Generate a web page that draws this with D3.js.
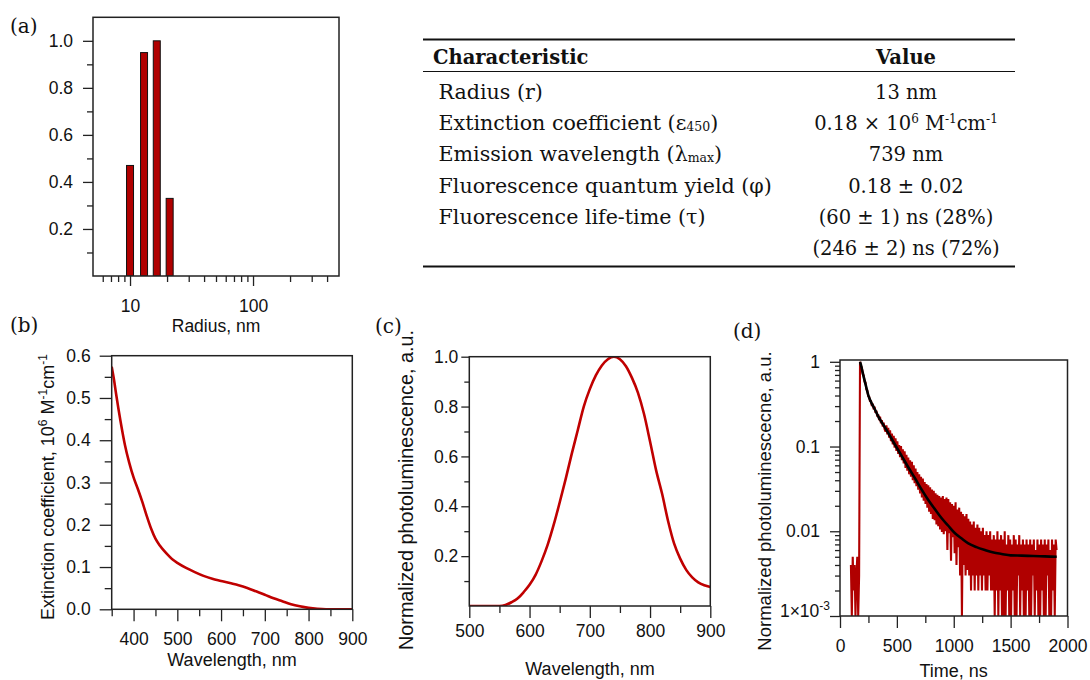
<!DOCTYPE html>
<html>
<head>
<meta charset="utf-8">
<script src="https://cdn.jsdelivr.net/npm/d3@7"></script>
<style>
  body { margin: 0; background: #fff; }
  svg { display: block; }
  text { white-space: pre; }
</style>
</head>
<body>
<svg id="fig" width="1090" height="680"></svg>
<script>
// ---------------------------------------------------------
// Data
// ---------------------------------------------------------

// (a) size distribution
const sizeRadius = [10, 13, 16.5, 21];
const sizeFraction = [0.47, 0.95, 1.0, 0.33];

// (b) extinction spectrum
const absWavelength = [350, 355, 360, 370, 380, 390, 400, 410, 420, 430, 440, 450, 460, 470, 480, 490, 500,
    520, 540, 560, 580, 600, 620, 640, 660, 680, 700, 720, 740, 760, 780, 800, 820, 840, 860, 880, 900];
const absExtinction = [0.574, 0.545, 0.51, 0.446, 0.39, 0.347, 0.312, 0.284, 0.254, 0.221, 0.191, 0.167, 0.151, 0.138, 0.127, 0.117, 0.11,
    0.098, 0.088, 0.079, 0.072, 0.067, 0.062, 0.057, 0.0505, 0.0425, 0.0345, 0.026, 0.019, 0.012, 0.007, 0.0033, 0.001, 0, 0, 0, 0];

// (c) emission spectrum
const plWavelength = [500, 520, 540, 550, 560, 570, 580, 590, 600, 610, 620, 630, 640, 650, 660, 670, 680, 690, 700,
    710, 720, 730, 740, 750, 760, 770, 780, 790, 800, 810, 820, 830, 840, 850, 860, 870, 880, 890, 900];
const plIntensity = [0, 0, 0, 0, 0.004, 0.015, 0.03, 0.055, 0.085, 0.125, 0.18, 0.245, 0.325, 0.415, 0.51, 0.61, 0.705, 0.8, 0.87,
    0.925, 0.965, 0.99, 1.0, 0.99, 0.962, 0.915, 0.855, 0.77, 0.66, 0.545, 0.45, 0.34, 0.25, 0.19, 0.145, 0.115, 0.095, 0.083, 0.076];

// (d) decay trace, one sample every decayStep ns from decayStart
const decayStart = 96;
const decayStep = 8;
const decayTrace = [
    0.004, 0, 0.005, 0.002, 0.004, 0, 0.003, 0.005, 0, 0.003,
    1.0, 0.9, 0.85, 0.72, 0.69, 0.58, 0.57, 0.47, 0.46, 0.39,
    0.39, 0.34, 0.35, 0.3, 0.32, 0.275, 0.295, 0.25, 0.265, 0.225,
    0.24, 0.205, 0.225, 0.188, 0.205, 0.172, 0.192, 0.16, 0.15, 0.178,
    0.139, 0.166, 0.127, 0.155, 0.116, 0.142, 0.106, 0.134, 0.097, 0.125,
    0.089, 0.115, 0.082, 0.104, 0.075, 0.101, 0.069, 0.093, 0.063, 0.088,
    0.056, 0.08, 0.052, 0.074, 0.047, 0.069, 0.044, 0.066, 0.04, 0.06,
    0.037, 0.055, 0.034, 0.05, 0.031, 0.047, 0.028, 0.044, 0.025, 0.042,
    0.023, 0.038, 0.021, 0.036, 0.019, 0.035, 0.017, 0.033, 0.016, 0.031,
    0.014, 0.03, 0.0135, 0.028, 0.012, 0.027, 0.0115, 0.026, 0.0105, 0.025,
    0.0098, 0.026, 0.0092, 0.024, 0.01, 0.025, 0.006, 0.024, 0.0095, 0.022,
    0.0045, 0.021, 0.0085, 0.02, 0.0055, 0.022, 0.004, 0.018, 0.0065, 0.019,
    0.003, 0.017, 0, 0.016, 0.004, 0.015, 0.003, 0.016, 0.0035, 0.014,
    0.003, 0.013, 0.002, 0.012, 0.003, 0.013, 0.002, 0.011, 0.003, 0.012,
    0.002, 0.011, 0.003, 0.01, 0.002, 0.011, 0.003, 0.009, 0.002, 0.01,
    0.002, 0.009, 0.003, 0.01, 0.002, 0.008, 0.002, 0.009, 0, 0.008,
    0.002, 0.01, 0, 0.008, 0.002, 0.009, 0, 0.008, 0.001, 0.01,
    0, 0.007, 0.002, 0.009, 0, 0.008, 0, 0.007, 0.002, 0.009,
    0, 0.008, 0, 0.007, 0.003, 0.009, 0, 0.007, 0.002, 0.008,
    0, 0.007, 0, 0.008, 0.002, 0.007, 0, 0.008, 0, 0.007,
    0.003, 0.008, 0, 0.006, 0.002, 0.008, 0, 0.007, 0, 0.008,
    0.002, 0.007, 0, 0.008, 0, 0.007, 0.003, 0.008, 0, 0.006,
    0, 0.008, 0.002, 0.007, 0, 0.008, 0.006
];

// (d) bi-exponential fit (black)
const fitTime = [176, 184, 200, 225, 250, 275, 300, 337, 375, 425, 475, 542, 600, 659, 718, 776, 835, 894,
    950, 1011, 1070, 1128, 1200, 1275, 1350, 1421, 1500, 1597, 1700, 1800, 1905];
const fitValue = [1.0, 0.92, 0.74, 0.54, 0.40, 0.33, 0.285, 0.226, 0.185, 0.144, 0.11, 0.0776, 0.057, 0.0423, 0.031, 0.0234, 0.0182, 0.01425,
    0.0117, 0.00946, 0.0082, 0.0072, 0.0065, 0.006, 0.0056, 0.0054, 0.0052, 0.00516, 0.0051, 0.00505, 0.005];

// Table (segments: [text, "sub" | "sup"])
const tableHeader = ["Characteristic", "Value"];
const tableNames = [
    [["Radius (r)"]],
    [["Extinction coefficient (ε"], ["450", "sub"], [")"]],
    [["Emission wavelength (λ"], ["max", "sub"], [")"]],
    [["Fluorescence quantum yield (φ)"]],
    [["Fluorescence life-time (τ)"]],
    [[""]]
];
const tableValues = [
    [["13 nm"]],
    [["0.18 × 10"], ["6", "sup"], [" M"], ["-1", "sup"], ["cm"], ["-1", "sup"]],
    [["739 nm"]],
    [["0.18 ± 0.02"]],
    [["(60 ± 1) ns (28%)"]],
    [["(246 ± 2) ns (72%)"]]
];

// ---------------------------------------------------------
// Helpers
// ---------------------------------------------------------
const SANS = '"Liberation Sans", Arial, Helvetica, sans-serif';
const SERIF = '"DejaVu Serif", "Liberation Serif", serif';
const RED = "#b00000";

const svg = d3.select("#fig");
svg.append("rect").attr("width", 1090).attr("height", 680).attr("fill", "#fff");

// writes segments into a text element as tspans (sub/superscripts)
function richText(text, segs, small) {
    let shift = 0;
    segs.forEach(([txt, kind]) => {
        const want = kind === "sup" ? -7 : kind === "sub" ? 1 : 0;
        text.append("tspan")
            .attr("dy", want - shift)
            .style("font-size", kind ? small : null)
            .text(txt);
        shift = want;
    });
}

function addPanel(c) {
    const g = svg.append("g").attr("transform", `translate(${c.left},${c.top})`);

    const xAxis = g.append("g").attr("transform", `translate(0,${c.height})`)
        .call(d3.axisBottom(c.x).tickValues(c.xMajor).tickFormat(c.xFmt)
            .tickSize(c.xTick[0]).tickPadding(c.xPad));
    g.append("g").attr("transform", `translate(0,${c.height})`)
        .call(d3.axisBottom(c.x).tickValues(c.xMinor).tickFormat("").tickSize(c.xTick[1]));

    const yAxis = g.append("g")
        .call(d3.axisLeft(c.y).tickValues(c.yMajor).tickFormat(c.yFmt)
            .tickSize(c.yTick[0]).tickPadding(c.yPad));
    g.append("g")
        .call(d3.axisLeft(c.y).tickValues(c.yMinor).tickFormat("").tickSize(c.yTick[1]));

    g.selectAll(".domain").remove();
    g.selectAll(".tick line").attr("stroke", "#222").attr("stroke-width", 1.3);
    g.selectAll(".tick text")
        .attr("font-family", SANS)
        .attr("font-size", 17.5)
        .attr("fill", "#111");

    const plot = g.append("g");

    // clip for the plotted data
    const clipId = "clip-" + c.name;
    g.append("clipPath").attr("id", clipId)
        .append("rect").attr("width", c.width).attr("height", c.height);
    plot.attr("clip-path", `url(#${clipId})`);

    g.append("rect")
        .attr("width", c.width)
        .attr("height", c.height)
        .attr("fill", "none")
        .attr("stroke", "#222")
        .attr("stroke-width", 1.5);

    return { g, plot, yAxis, xAxis };
}

function panelLabel(txt, x, y) {
    svg.append("text")
        .attr("x", x).attr("y", y)
        .attr("font-family", SERIF)
        .attr("font-size", 20)
        .attr("fill", "#111")
        .text(txt);
}

function axisTitle(x, y, segs, size, rotate) {
    const t = svg.append("text")
        .attr("transform", `translate(${x},${y})` + (rotate ? " rotate(-90)" : ""))
        .attr("text-anchor", "middle")
        .attr("font-family", SANS)
        .attr("font-size", size)
        .attr("fill", "#111");
    richText(t, segs, "12px");
}

const fmt1 = d3.format(".1f");

// ---------------------------------------------------------
// (a) size histogram
// ---------------------------------------------------------
{
    const w = 246, h = 258.7;
    const x = d3.scaleLog().domain([5, 500]).range([0, w]);
    const y = d3.scaleLinear().domain([0, 1.1]).range([h, 0]);
    const p = addPanel({
        name: "a", left: 93, top: 17.3, width: w, height: h, x, y,
        xMajor: [10, 100], xMinor: [6, 7, 8, 9, 20, 30, 40, 50, 60, 70, 80, 90, 200, 300, 400],
        yMajor: [0.2, 0.4, 0.6, 0.8, 1.0], yMinor: [0.1, 0.3, 0.5, 0.7, 0.9],
        xFmt: d3.format("d"), yFmt: fmt1, xTick: [10, 6], yTick: [10, 6], xPad: 13.6, yPad: 10
    });
    p.plot.selectAll("rect.bar")
        .data(sizeRadius.map((r, i) => ({ r, v: sizeFraction[i] })))
        .join("rect")
        .attr("class", "bar")
        .attr("x", d => x(d.r) - 3.5)
        .attr("width", 7)
        .attr("y", d => y(d.v))
        .attr("height", d => h - y(d.v))
        .attr("fill", "#b00000")
        .attr("stroke", "#111")
        .attr("stroke-width", 1);

    panelLabel("(a)", 10, 33);
    axisTitle(216, 332, [["Radius, nm"]], 17.5, false);
}

// ---------------------------------------------------------
// (b) extinction spectrum
// ---------------------------------------------------------
{
    const w = 240.6, h = 253.6;
    const x = d3.scaleLinear().domain([350, 900]).range([0, w]);
    const y = d3.scaleLinear().domain([0, 0.6]).range([h, 0]);
    const p = addPanel({
        name: "b", left: 111.7, top: 355.7, width: w, height: h, x, y,
        xMajor: d3.range(400, 901, 100), xMinor: d3.range(350, 900, 100),
        yMajor: d3.range(0, 0.61, 0.1), yMinor: d3.range(0.05, 0.6, 0.1),
        xFmt: d3.format("d"), yFmt: fmt1, xTick: [12, 7], yTick: [12, 7], xPad: 11.3, yPad: 9
    });
    const line = d3.line()
        .x((d, i) => x(absWavelength[i]))
        .y(d => y(d))
        .curve(d3.curveMonotoneX);
    p.plot.append("path")
        .attr("d", line(absExtinction))
        .attr("fill", "none")
        .attr("stroke", "#c00000")
        .attr("stroke-width", 2.6);

    panelLabel("(b)", 10, 332);
    axisTitle(232, 666, [["Wavelength, nm"]], 18, false);
    axisTitle(54, 487, [["Extinction coefficient, 10"], ["6", "sup"], [" M"], ["-1", "sup"], ["cm"], ["-1", "sup"]], 18, true);
}

// ---------------------------------------------------------
// (c) emission spectrum
// ---------------------------------------------------------
{
    const w = 241, h = 249.3;
    const x = d3.scaleLinear().domain([500, 900]).range([0, w]);
    const y = d3.scaleLinear().domain([0, 1]).range([h, 0]);
    const p = addPanel({
        name: "c", left: 469.3, top: 356.7, width: w, height: h, x, y,
        xMajor: d3.range(500, 901, 100), xMinor: d3.range(550, 900, 100),
        yMajor: [0.2, 0.4, 0.6, 0.8, 1.0], yMinor: [0.1, 0.3, 0.5, 0.7, 0.9],
        xFmt: d3.format("d"), yFmt: fmt1, xTick: [12, 7], yTick: [8, 5], xPad: 6.3, yPad: 3
    });
    const line = d3.line()
        .x((d, i) => x(plWavelength[i]))
        .y(d => y(d))
        .curve(d3.curveMonotoneX);
    p.plot.append("path")
        .attr("d", line(plIntensity))
        .attr("fill", "none")
        .attr("stroke", "#c00000")
        .attr("stroke-width", 2.6);

    panelLabel("(c)", 375, 333);
    axisTitle(590, 675, [["Wavelength, nm"]], 18, false);
    axisTitle(413, 490, [["Normalized photoluminescence, a.u."]], 19.8, true);
}

// ---------------------------------------------------------
// (d) fluorescence decay
// ---------------------------------------------------------
{
    const w = 227.5, h = 256;
    const x = d3.scaleLinear().domain([0, 2000]).range([0, w]);
    const y = d3.scaleLog().domain([0.001, 1.05]).range([h, 0]);
    const minors = [];
    [0.001, 0.01, 0.1].forEach(dec => d3.range(2, 10).forEach(k => minors.push(dec * k)));
    const p = addPanel({
        name: "d", left: 840, top: 360, width: w, height: h, x, y,
        xMajor: d3.range(0, 2001, 500), xMinor: d3.range(250, 2000, 500),
        yMajor: [1, 0.1, 0.01, 0.001], yMinor: minors,
        xFmt: d3.format("d"), yFmt: d => (d >= 0.01 ? String(d) : ""),
        xTick: [12, 7], yTick: [10, 5], xPad: 11.3, yPad: 10
    });

    // 1x10^-3 label with superscript
    const low = p.yAxis.selectAll(".tick text").filter(d => d === 0.001);
    low.attr("x", -10);
    richText(low, [["1×10"], ["-3", "sup"]], "12px");

    const floor = v => y(Math.max(v, 0.001));
    const trace = d3.line()
        .x((d, i) => x(decayStart + i * decayStep))
        .y(d => floor(d));
    p.plot.append("path")
        .attr("d", trace(decayTrace))
        .attr("fill", "none")
        .attr("stroke", RED)
        .attr("stroke-width", 2.1)
        .attr("stroke-linejoin", "bevel");

    const fit = d3.line()
        .x((d, i) => x(fitTime[i]))
        .y(d => y(d))
        .curve(d3.curveMonotoneX);
    p.plot.append("path")
        .attr("d", fit(fitValue))
        .attr("fill", "none")
        .attr("stroke", "#000")
        .attr("stroke-width", 2.6);

    panelLabel("(d)", 733, 338);
    axisTitle(953.7, 676.7, [["Time, ns"]], 18, false);
    axisTitle(771, 501, [["Normalized photoluminescecne, a.u."]], 18.5, true);
}

// ---------------------------------------------------------
// Table
// ---------------------------------------------------------
{
    const left = 423, right = 1015, valueX = 906;
    const rowY = i => 99 + i * 31.2;

    const rule = (y, sw) => svg.append("line")
        .attr("x1", left).attr("x2", right)
        .attr("y1", y).attr("y2", y)
        .attr("stroke", "#111").attr("stroke-width", sw);
    rule(39.5, 2.2);
    rule(71.5, 1.1);
    rule(266.5, 2.2);

    const tbl = svg.append("g")
        .attr("font-family", SERIF)
        .attr("font-size", 19.5)
        .attr("fill", "#111");

    tbl.append("text").attr("x", 433).attr("y", 64)
        .attr("font-weight", "bold").text(tableHeader[0]);
    tbl.append("text").attr("x", valueX).attr("y", 64)
        .attr("text-anchor", "middle")
        .attr("font-weight", "bold").text(tableHeader[1]);

    tableNames.forEach((segs, i) => {
        const t = tbl.append("text").attr("x", 438.5).attr("y", rowY(i))
            .attr("font-size", 20.6);
        richText(t, segs, "12.5px");
    });
    tableValues.forEach((segs, i) => {
        const t = tbl.append("text").attr("x", valueX).attr("y", rowY(i))
            .attr("text-anchor", "middle");
        richText(t, segs, "12px");
    });
}
</script>
</body>
</html>
